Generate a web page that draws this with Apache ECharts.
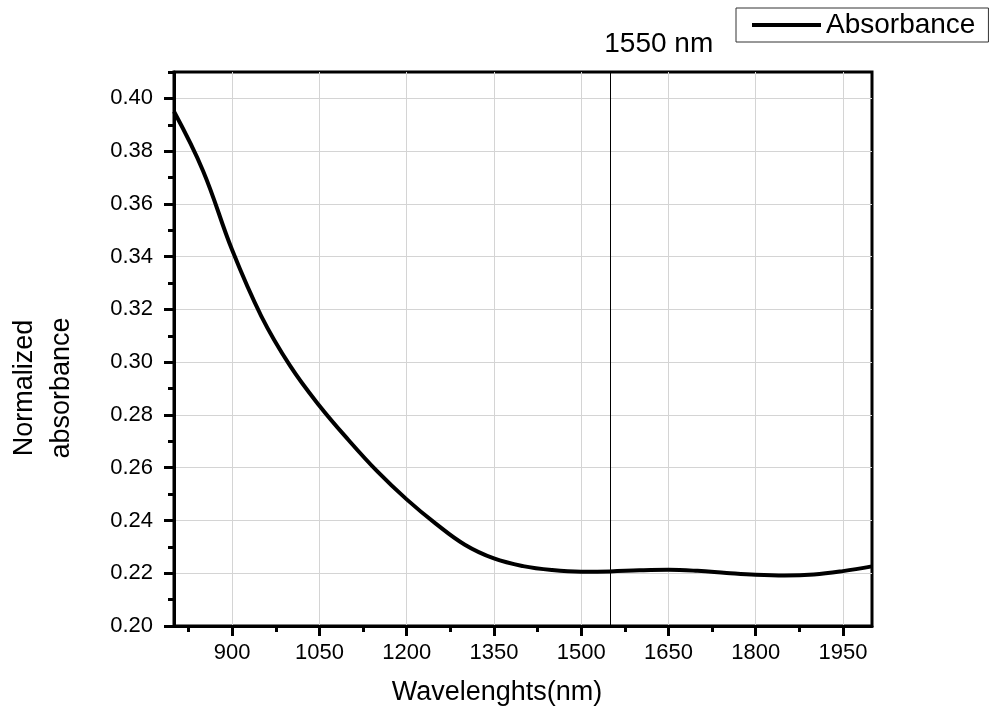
<!DOCTYPE html>
<html>
<head>
<meta charset="utf-8">
<script src="https://cdn.jsdelivr.net/npm/echarts@6/dist/echarts.min.js"></script>
<style>
html,body{margin:0;padding:0;background:#fff;}
#chart{width:992px;height:719px;}
</style>
</head>
<body>
<div id="chart"></div>
<script>
// Data
var wavelengths = [800, 850, 900, 950, 1000, 1050, 1100, 1150, 1200, 1250, 1300, 1350, 1400, 1450, 1500, 1550, 1600, 1650, 1700, 1750, 1800, 1850, 1900, 1950, 2000];
var absorbance  = [0.395, 0.3725, 0.3425, 0.3175, 0.2985, 0.2835, 0.2705, 0.2585, 0.2480, 0.2388, 0.2308, 0.2256, 0.2227, 0.2212, 0.2206, 0.2207, 0.2211, 0.2213, 0.2209, 0.2201, 0.2194, 0.2191, 0.2195, 0.2208, 0.2226];
var seriesName = 'Absorbance';
var markerWavelength = 1550;
var markerLabel = '1550 nm';
var xMajorTicks = [900, 1050, 1200, 1350, 1500, 1650, 1800, 1950];
var xMinorTicks = [825, 975, 1125, 1275, 1425, 1575, 1725, 1875];
var yMajorTicks = [0.20, 0.22, 0.24, 0.26, 0.28, 0.30, 0.32, 0.34, 0.36, 0.38, 0.40];
var yMinorTicks = [0.21, 0.23, 0.25, 0.27, 0.29, 0.31, 0.33, 0.35, 0.37, 0.39, 0.41];
var xRange = [800, 2000];
var yRange = [0.20, 0.41];
var xTitle = 'Wavelenghts(nm)';
var yTitle = 'Normalized\nabsorbance';

var FONT = 'Liberation Sans, Arial, Helvetica, sans-serif';
var gridPos = {left: 174, right: 120, top: 72, bottom: 93};

var chart = echarts.init(document.getElementById('chart'), null, {renderer: 'canvas'});
var data = wavelengths.map(function (w, i) { return [w, absorbance[i]]; });

var option = {
  backgroundColor: '#fff',
  animation: false,
  grid: [
    Object.assign({show: true, borderColor: '#000', borderWidth: 3, backgroundColor: 'transparent', containLabel: false}, gridPos),
    Object.assign({show: false, containLabel: false}, gridPos)
  ],
  legend: {
    data: [seriesName],
    left: 736, top: 8,
    padding: [3, 13, 3, 16],
    borderColor: '#333', borderWidth: 1,
    icon: 'rect', itemWidth: 69, itemHeight: 4,
    textStyle: {fontFamily: FONT, fontSize: 28, color: '#000'},
    itemStyle: {color: '#000'}
  },
  xAxis: [
    {
      type: 'value', gridIndex: 0, min: xRange[0], max: xRange[1],
      axisLine: {show: true, onZero: false, lineStyle: {color: '#000', width: 3}},
      axisTick: {show: true, customValues: xMajorTicks, length: 10, lineStyle: {color: '#000', width: 3}},
      axisLabel: {show: true, customValues: xMajorTicks, margin: 16, fontFamily: FONT, fontSize: 22, color: '#000',
        formatter: function (v) { return String(v); }},
      splitLine: {show: true, lineStyle: {color: '#d4d4d4', width: 1}}
    },
    {
      type: 'value', gridIndex: 1, min: xRange[0], max: xRange[1],
      axisLine: {show: false},
      axisTick: {show: true, customValues: xMinorTicks, length: 6, lineStyle: {color: '#000', width: 3}},
      axisLabel: {show: false},
      splitLine: {show: false}
    }
  ],
  yAxis: [
    {
      type: 'value', gridIndex: 0, min: yRange[0], max: yRange[1],
      axisLine: {show: true, onZero: false, lineStyle: {color: '#000', width: 3}},
      axisTick: {show: true, customValues: yMajorTicks, length: 10, lineStyle: {color: '#000', width: 3}},
      axisLabel: {show: true, customValues: yMajorTicks, margin: 21, fontFamily: FONT, fontSize: 22, color: '#000',
        formatter: function (v) { return v.toFixed(2); }},
      splitLine: {show: true, lineStyle: {color: '#d4d4d4', width: 1}}
    },
    {
      type: 'value', gridIndex: 1, min: yRange[0], max: yRange[1],
      axisLine: {show: false},
      axisTick: {show: true, customValues: yMinorTicks, length: 6, lineStyle: {color: '#000', width: 3}},
      axisLabel: {show: false},
      splitLine: {show: false}
    }
  ],
  series: [
    {
      name: seriesName, type: 'line', xAxisIndex: 0, yAxisIndex: 0,
      data: data, smooth: 0.4, symbol: 'none',
      lineStyle: {color: '#000', width: 4},
      itemStyle: {color: '#000'},
      markLine: {
        silent: true, symbol: ['none', 'none'],
        lineStyle: {color: '#000', width: 1, type: 'solid'},
        label: {show: true, position: 'end', formatter: markerLabel, align: 'left',
          fontFamily: FONT, fontSize: 28, color: '#000', distance: 14, offset: [-6, 0]},
        data: [{xAxis: markerWavelength}]
      }
    }
  ],
  graphic: [
    {
      type: 'text', x: 497, y: 693,
      style: {text: xTitle, font: '27px ' + FONT, fill: '#000', textAlign: 'center', textVerticalAlign: 'middle'}
    },
    {
      type: 'text', x: 43, y: 388, rotation: Math.PI / 2,
      style: {text: yTitle, font: '27px ' + FONT, fill: '#000', textAlign: 'center', textVerticalAlign: 'middle', lineHeight: 37}
    }
  ]
};
chart.setOption(option);
</script>
</body>
</html>
